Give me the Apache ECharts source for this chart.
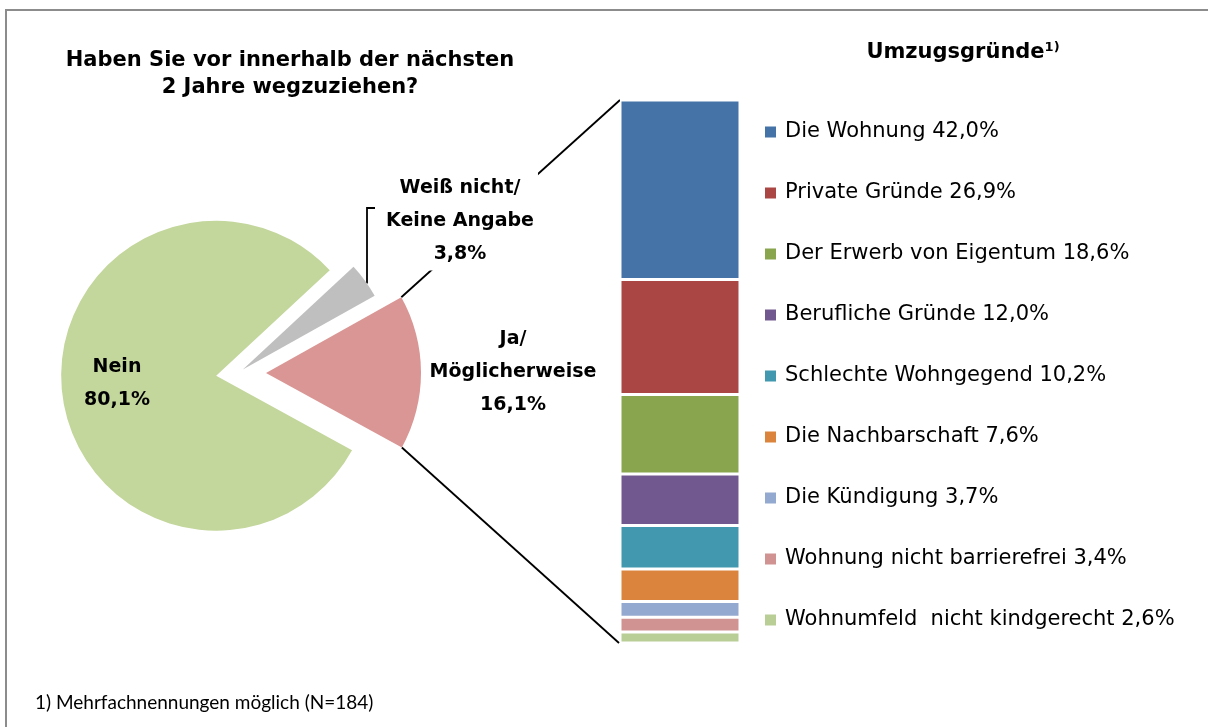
<!DOCTYPE html>
<html>
<head>
<meta charset="utf-8">
<script src="https://cdn.jsdelivr.net/npm/echarts@6/dist/echarts.min.js"></script>
<style>
html, body { margin: 0; padding: 0; background: #fff; }
#box { width: 1208px; height: 727px; }
</style>
</head>
<body>
<div id="box"></div>
<script>
// Kreis: Wegzug innerhalb der nächsten 2 Jahre
const pieNames = ['Ja/\nMöglicherweise', 'Nein', 'Weiß nicht/\nKeine Angabe'];
const pieValues = [16.1, 80.1, 3.8];
const pieColors = ['#D99694', '#C3D69B', '#BFBFBF'];

// Säule: Umzugsgründe (Mehrfachnennungen)
const reasonNames = [
    'Die Wohnung',
    'Private Gründe',
    'Der Erwerb von Eigentum',
    'Berufliche Gründe',
    'Schlechte Wohngegend',
    'Die Nachbarschaft',
    'Die Kündigung',
    'Wohnung nicht barrierefrei',
    'Wohnumfeld  nicht kindgerecht',
];
const reasonValues = [42.0, 26.9, 18.6, 12.0, 10.2, 7.6, 3.7, 3.4, 2.6];
const reasonColors = ['#4572A7', '#AA4643', '#89A54E', '#71588F', '#4198AF', '#DB843D', '#93A9CF', '#D19392', '#B9CD96'];

const FONT = 'DejaVu Sans';
const LEG_FONT = 'DejaVu Sans';
const NOTE_FONT = 'Lato';

const fmt = v => v.toFixed(1).replace('.', ',') + '%';

// Kreis-Geometrie
const oC = { x: 238, y: 373 };
const iStart = 29.2;
const aExplode = [28, 22, 6];
const aRadius = [155, 155, 151];
const aLabelPos = [[513, 372], [117, 384], [460, 221]];

const iPieSum = pieValues.reduce((a, b) => a + b, 0);
const aAngles = []; // [start, end, mid] in Grad
let iAng = iStart;
pieValues.forEach(v => {
    const span = v / iPieSum * 360;
    aAngles.push([iAng, iAng - span, iAng - span / 2]);
    iAng -= span;
});
const rad = d => d * Math.PI / 180;
const aCenters = aAngles.map((a, i) => [
    oC.x + aExplode[i] * Math.cos(rad(a[2])),
    oC.y - aExplode[i] * Math.sin(rad(a[2])),
]);

// Säulen-Geometrie
const oGrid = { left: 620, top: 100, width: 120, height: 543 };
const iReasonSum = reasonValues.reduce((a, b) => a + b, 0);

const aPieSeries = pieValues.map((cur, i) => ({
    type: 'pie',
    silent: true,
    center: aCenters[i],
    radius: aRadius[i],
    startAngle: iStart,
    clockwise: true,
    avoidLabelOverlap: false,
    emphasis: { disabled: true },
    data: pieValues.map((v, j) => ({
        name: pieNames[j],
        value: v,
        itemStyle: { color: j === i ? pieColors[j] : 'rgba(0,0,0,0)' },
        label: { show: j === i },
        labelLine: { show: j === i && j === 2, lineStyle: { color: '#000', width: 1.8 } },
    })),
    label: {
        position: i === 1 ? 'inside' : 'outside',
        formatter: p => `${p.name}\n${fmt(p.value)}`,
        fontFamily: FONT,
        fontWeight: 'bold',
        fontSize: 19,
        lineHeight: 33,
        color: '#000',
        align: 'center',
        backgroundColor: i === 2 ? '#fff' : 'transparent',
        padding: i === 2 ? [0, 4] : 0,
    },
    labelLayout: p => {
        if (p.dataIndex !== i) return {};
        const oRes = { x: aLabelPos[i][0], y: aLabelPos[i][1], align: 'center', verticalAlign: 'middle' };
        if (i === 2) {
            // Führungslinie vom Segment nach oben
            const r = aRadius[i];
            const lx = 367;
            const ly = aCenters[i][1] - Math.sqrt(r * r - (lx - aCenters[i][0]) ** 2);
            oRes.labelLinePoints = [[lx, ly], [lx, 208], [375, 208]];
        }
        return oRes;
    },
}));

const aBarSeries = reasonValues.map((v, i) => ({
    type: 'bar',
    name: reasonNames[i],
    stack: 'total',
    silent: true,
    barWidth: '100%',
    data: [v],
    itemStyle: { color: reasonColors[i], borderColor: '#fff', borderWidth: 1.5 },
}));

// Verbindungslinien Kreis -> Säule
const aPink = aAngles[0];
const pinkCorner = ang => [
    aCenters[0][0] + aRadius[0] * Math.cos(rad(ang)),
    aCenters[0][1] - aRadius[0] * Math.sin(rad(ang)),
];
const pTop = pinkCorner(aPink[0]);
const pBot = pinkCorner(aPink[1]);

const myChart = echarts.init(document.getElementById('box'));
const option = {
    animation: false,
    grid: { ...oGrid, containLabel: false },
    xAxis: { type: 'category', data: [''], show: false },
    yAxis: { type: 'value', min: 0, max: iReasonSum, inverse: true, show: false },
    legend: {
        orient: 'vertical',
        left: 763,
        top: 120,
        padding: 0,
        icon: 'rect',
        itemWidth: 13,
        itemHeight: 13,
        itemGap: 37,
        data: reasonNames,
        selectedMode: false,
        formatter: name => `${name} ${fmt(reasonValues[reasonNames.indexOf(name)])}`,
        textStyle: { fontFamily: LEG_FONT, fontSize: 21, lineHeight: 24, color: '#000', padding: [0, 0, 0, 3] },
    },
    series: [...aPieSeries, ...aBarSeries],
    graphic: [
        {
            type: 'rect', z: -1, silent: true,
            shape: { x: 6, y: 10, width: 1230, height: 740 },
            style: { fill: 'none', stroke: '#8c8c8c', lineWidth: 2 },
        },
        {
            type: 'text', silent: true,
            style: {
                x: 290, y: 74, text: 'Haben Sie vor innerhalb der nächsten\n2 Jahre wegzuziehen?',
                textAlign: 'center', textVerticalAlign: 'middle',
                font: `bold 21px ${FONT}`, lineHeight: 27, fill: '#000',
            },
        },
        {
            type: 'text', silent: true,
            style: {
                x: 963, y: 53, text: 'Umzugsgründe{sup|1)}',
                textAlign: 'center', textVerticalAlign: 'middle',
                font: `bold 21px ${FONT}`, fill: '#000',
                rich: { sup: { fontFamily: FONT, fontWeight: 'bold', fontSize: 13, verticalAlign: 'top', padding: [0, 0, 10, 0] } },
            },
        },
        {
            type: 'text', silent: true,
            style: {
                x: 35, y: 703, text: '1) Mehrfachnennungen möglich (N=184)',
                textAlign: 'left', textVerticalAlign: 'middle',
                font: `19px ${NOTE_FONT}`, fill: '#000',
            },
        },
        {
            type: 'polyline', z: 0, silent: true,
            shape: { points: [pTop, [oGrid.left, oGrid.top]] },
            style: { stroke: '#000', lineWidth: 1.8 },
        },
        {
            type: 'polyline', z: 0, silent: true,
            shape: { points: [pBot, [oGrid.left - 1, oGrid.top + oGrid.height]] },
            style: { stroke: '#000', lineWidth: 1.8 },
        },
    ],
};
myChart.setOption(option);
</script>
</body>
</html>
